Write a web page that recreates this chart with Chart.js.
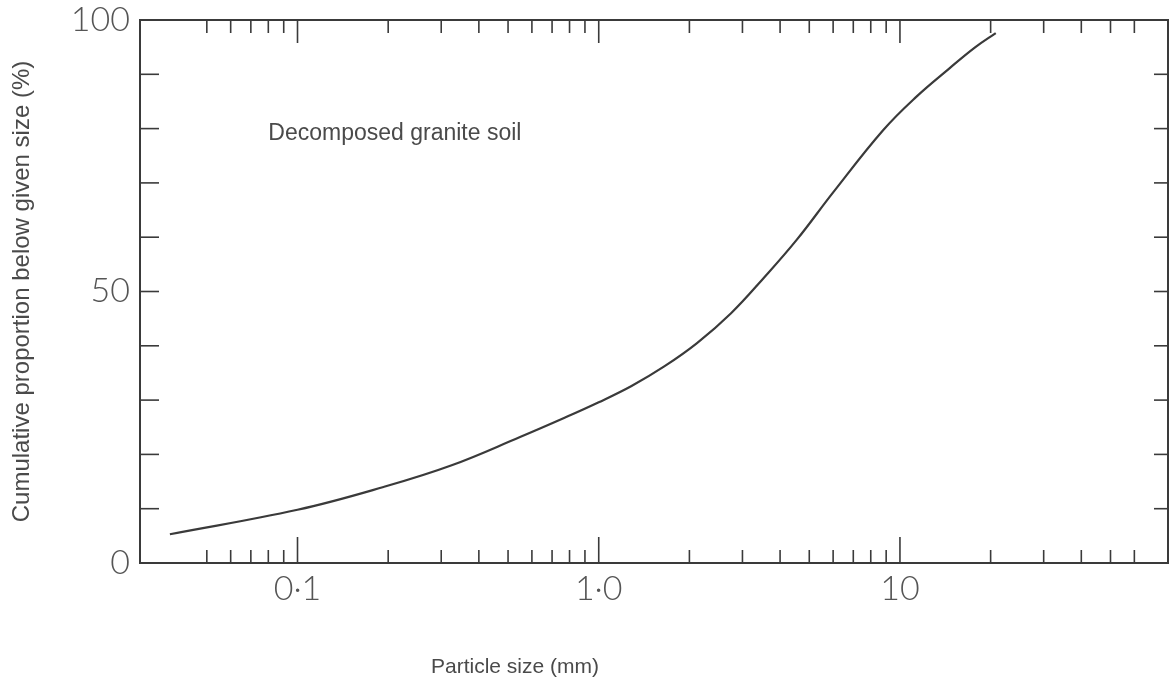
<!DOCTYPE html>
<html>
<head>
<meta charset="utf-8">
<title>Decomposed granite soil - grading curve</title>
<script src="https://cdn.jsdelivr.net/npm/chart.js@4.4.1/dist/chart.umd.min.js"></script>
<style>
  html, body { margin: 0; padding: 0; background: #fff; }
  #wrap { position: relative; width: 1170px; height: 689px; }
</style>
</head>
<body>
<div id="wrap"><canvas id="grading"></canvas></div>
<script>
// Grading curve
const particleSize = [0.0377, 0.1, 0.193, 0.325, 0.548, 0.767, 1.0, 1.285, 1.65, 2.12, 2.75, 3.53, 4.54, 6.01, 8.79, 11.3, 14.6, 17.8, 20.8];
const percentFiner = [5.3, 9.8, 14.0, 18.0, 23.2, 26.7, 29.6, 32.6, 36.2, 40.5, 46.0, 52.5, 59.5, 68.3, 79.7, 85.8, 91.1, 95.0, 97.6];

// Axis ticks
const xMajorTicks = [0.1, 1, 10];
const xMajorLabels = ['0\u00b71', '1\u00b70', '10'];
const xMinorTicks = [0.05, 0.06, 0.07, 0.08, 0.09,
                     0.2, 0.3, 0.4, 0.5, 0.6, 0.7, 0.8, 0.9,
                     2, 3, 4, 5, 6, 7, 8, 9,
                     20, 30, 40, 50, 60];
const yLabelTicks = [0, 50, 100];
const yMinorTicks = [10, 20, 30, 40, 50, 60, 70, 80, 90];

const seriesLabel = 'Decomposed granite soil';
const labelAt = { x: 0.08, y: 79 };   // where the series name sits, in data units

const ink = '#3a3a3a';
const textGrey = '#4a4a4a';
const textFont = "'Liberation Sans', Arial, sans-serif";
const numFont = "Lato, 'Liberation Sans', sans-serif";

Chart.defaults.animation = false;
Chart.defaults.color = textGrey;

// frame, inward ticks and the free text of the figure
const frameTicks = {
    id: 'frameTicks',
    afterDatasetsDraw(chart) {
        const { ctx, chartArea: a, scales: { x, y } } = chart;
        const line = (x1, y1, x2, y2) => {
            ctx.beginPath();
            ctx.moveTo(x1, y1);
            ctx.lineTo(x2, y2);
            ctx.stroke();
        };
        ctx.save();
        ctx.strokeStyle = ink;
        ctx.lineWidth = 2;
        ctx.strokeRect(a.left, a.top, a.right - a.left, a.bottom - a.top);

        ctx.lineWidth = 1.6;
        xMinorTicks.forEach(v => {
            const px = x.getPixelForValue(v);
            line(px, a.bottom, px, a.bottom - 13);
            line(px, a.top, px, a.top + 13);
        });
        xMajorTicks.forEach(v => {
            const px = x.getPixelForValue(v);
            line(px, a.bottom, px, a.bottom - 26);
            line(px, a.top, px, a.top + 23);
        });
        yMinorTicks.forEach(v => {
            const py = y.getPixelForValue(v);
            line(a.left, py, a.left + 19, py);
            line(a.right, py, a.right - 14, py);
        });

        ctx.fillStyle = textGrey;
        ctx.font = '23px ' + textFont;
        ctx.textAlign = 'left';
        ctx.textBaseline = 'middle';
        ctx.fillText(seriesLabel, x.getPixelForValue(labelAt.x), y.getPixelForValue(labelAt.y));

        ctx.font = '21px ' + textFont;
        ctx.textAlign = 'center';
        ctx.fillText('Particle size (mm)', 515, 667);
        ctx.restore();
    }
};

new Chart(document.getElementById('grading'), {
    type: 'line',
    data: {
        datasets: [{
            label: seriesLabel,
            data: particleSize.map((s, i) => ({ x: s, y: percentFiner[i] })),
            borderColor: ink,
            borderWidth: 2.2,
            pointRadius: 0,
            fill: false,
            tension: 0.4
        }]
    },
    options: {
        responsive: true,
        maintainAspectRatio: false,
        layout: { padding: { top: 20, right: 2, left: 0, bottom: 0 } },
        plugins: {
            legend: { display: false },
            tooltip: { enabled: false }
        },
        scales: {
            x: {
                type: 'logarithmic',
                min: 0.03,
                max: 77.6,
                grid: { display: false, drawTicks: false },
                border: { display: false },
                afterBuildTicks: scale => {
                    scale.ticks = xMajorTicks.map(v => ({ value: v }));
                },
                afterFit: scale => {
                    scale.height = 126;
                    scale.paddingLeft = 0;
                    scale.paddingRight = 0;
                },
                ticks: {
                    autoSkip: false,
                    maxRotation: 0,
                    padding: 6,
                    color: '#555',
                    font: { family: numFont, size: 34, weight: 300 },
                    callback: value => {
                        const i = xMajorTicks.indexOf(value);
                        return i >= 0 ? xMajorLabels[i] : '';
                    }
                }
            },
            y: {
                min: 0,
                max: 100,
                grid: { display: false, drawTicks: false },
                border: { display: false },
                afterBuildTicks: scale => {
                    scale.ticks = yLabelTicks.map(v => ({ value: v }));
                },
                afterFit: scale => {
                    scale.width = 140;
                    scale.paddingTop = 0;
                    scale.paddingBottom = 0;
                },
                title: {
                    display: true,
                    text: 'Cumulative proportion below given size (%)',
                    color: textGrey,
                    font: { family: textFont, size: 24 },
                    padding: { top: 8, bottom: 0 }
                },
                ticks: {
                    padding: 10,
                    color: '#555',
                    font: { family: numFont, size: 34, weight: 300 }
                }
            }
        }
    },
    plugins: [frameTicks]
});
</script>
</body>
</html>
